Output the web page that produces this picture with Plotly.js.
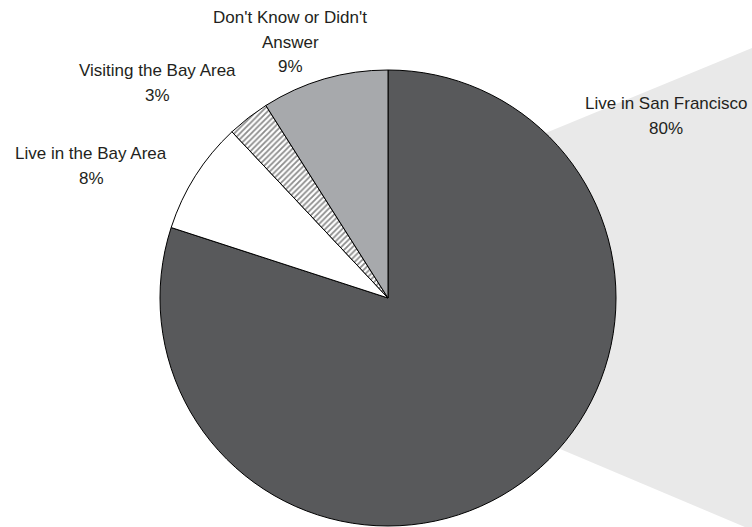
<!DOCTYPE html>
<html>
<head>
<meta charset="utf-8">
<script src="https://cdn.plot.ly/plotly-3.0.1.min.js"></script>
<style>html,body{margin:0;padding:0;background:#fff;}#chart{width:752px;height:527px;}</style>
</head>
<body>
<div id="chart"></div>
<script>
// Data
var categories = ["Live in San Francisco", "Live in the Bay Area", "Visiting the Bay Area", "Don't Know or Didn't Answer"];
var values = [80, 8, 3, 9];
var sliceColors = ["#58595b", "#ffffff", "#ffffff", "#a7a9ac"];
var slicePatterns = ["", "", "/", ""];
// Label lines for each category (as drawn in the reference)
var labelLines = [["Live in San Francisco"], ["Live in the Bay Area"], ["Visiting the Bay Area"], ["Don't Know or Didn't", "Answer"]];
// Label placement (pixel centre x, baseline of first line)
var labelPos = [[666, 109], [91, 159], [157, 76], [290, 23]];

var W = 752, H = 527;
var lineGap = 24.5;

var annotations = [];
for (var i = 0; i < categories.length; i++) {
  var lines = labelLines[i].concat([values[i] + "%"]);
  for (var j = 0; j < lines.length; j++) {
    var base = labelPos[i][1] + j * lineGap;
    annotations.push({
      text: lines[j],
      xref: "paper", yref: "paper",
      x: labelPos[i][0] / W,
      y: 1 - (base - 5.5) / H,
      xanchor: "center", yanchor: "middle",
      showarrow: false,
      font: {family: "Liberation Sans, Arial, sans-serif", size: 17, color: "#231f20"}
    });
  }
}

var cx = 388, cy = 298, r = 228;

var trace = {
  type: "pie",
  labels: categories,
  values: values,
  sort: false,
  direction: "clockwise",
  rotation: 0,
  textinfo: "none",
  hoverinfo: "label+percent",
  showlegend: false,
  marker: {
    colors: sliceColors,
    line: {color: "#000000", width: 1},
    pattern: {shape: slicePatterns, fgcolor: "#8c8c8c", bgcolor: "#ffffff", size: 4, solidity: 0.45}
  },
  domain: {x: [(cx - r) / W, (cx + r) / W], y: [1 - (cy + r) / H, 1 - (cy - r) / H]}
};

function px(x) { return (x / W).toFixed(4); }
function py(y) { return (1 - y / H).toFixed(4); }

var layout = {
  width: W, height: H,
  margin: {l: 0, r: 0, t: 0, b: 0},
  paper_bgcolor: "#ffffff",
  plot_bgcolor: "#ffffff",
  annotations: annotations,
  shapes: [{
    type: "path",
    xref: "paper", yref: "paper",
    path: "M " + px(174) + "," + py(286) + " L " + px(752) + "," + py(48) + " L " + px(752) + "," + py(530) + " Z",
    fillcolor: "#e9e9e9",
    line: {width: 0},
    layer: "below"
  }]
};

Plotly.newPlot("chart", [trace], layout, {displayModeBar: false, staticPlot: true});
</script>
</body>
</html>
